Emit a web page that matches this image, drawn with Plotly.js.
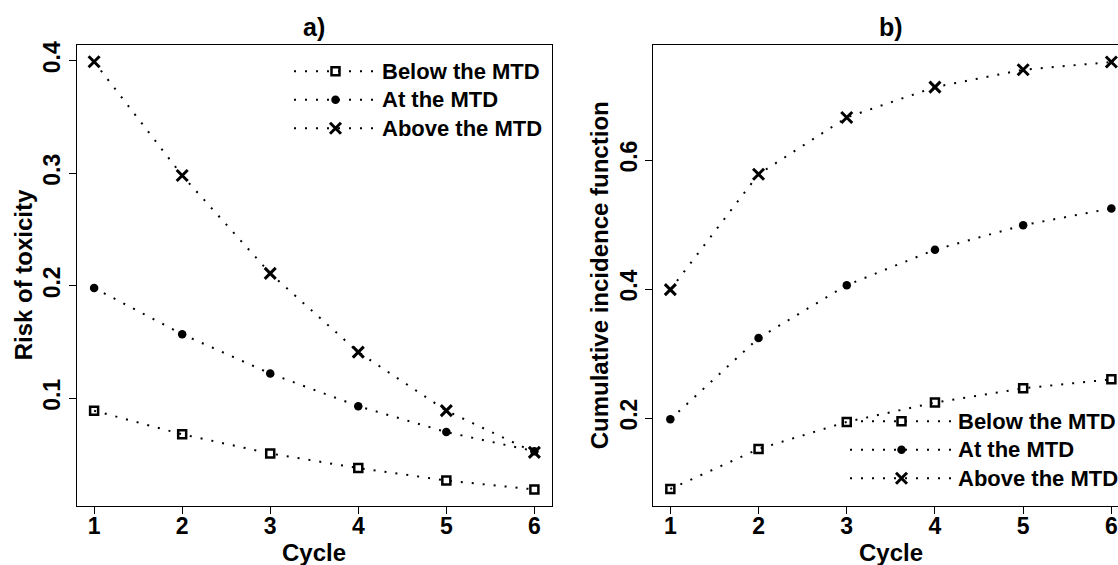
<!DOCTYPE html>
<html>
<head>
<meta charset="utf-8">
<script src="https://cdn.plot.ly/plotly-3.0.1.min.js"></script>
<style>
html, body { margin: 0; padding: 0; overflow: hidden; background: #ffffff; }
#chart { width: 1135px; height: 565px; }
</style>
</head>
<body>
<div id="chart"></div>
<script>
// ---- data ----
const cycles = [1, 2, 3, 4, 5, 6];
const seriesNames = ["Below the MTD", "At the MTD", "Above the MTD"];

const riskBelow = [0.089, 0.068, 0.051, 0.038, 0.027, 0.019];
const riskAt    = [0.198, 0.157, 0.122, 0.093, 0.070, 0.053];
const riskAbove = [0.399, 0.298, 0.211, 0.141, 0.089, 0.052];

const cifBelow = [0.090, 0.152, 0.194, 0.224, 0.246, 0.260];
const cifAt    = [0.198, 0.324, 0.406, 0.461, 0.499, 0.525];
const cifAbove = [0.399, 0.578, 0.666, 0.713, 0.740, 0.752];

const xTicks = [1, 2, 3, 4, 5, 6];
const yTicksA = [0.1, 0.2, 0.3, 0.4];
const yTicksB = [0.2, 0.4, 0.6];

const panelTitles = ["a)", "b)"];
const xTitle = "Cycle";
const yTitleA = "Risk of toxicity";
const yTitleB = "Cumulative incidence function";

// ---- styling ----
const FONT = "Liberation Sans, Arial, Helvetica, sans-serif";
const W = 1135, H = 565;
const dotted = {color: "#000", width: 2, dash: "2px,9px"};
const markers = [
  {symbol: "square-open", size: 8, color: "#000", line: {width: 2.5, color: "#000"}},
  {symbol: "circle", size: 8.5, color: "#000", line: {width: 0}},
  {symbol: "x-thin-open", size: 11, color: "#000", line: {width: 3, color: "#000"}}
];
const LEG_BASE = 19.6;   // sets legend row spacing
const LEG_TEXT = 22;     // actual legend text size

function mk(y, i, xa, ya, leg) {
  return {
    x: cycles, y: y, type: "scatter", mode: "lines+markers",
    name: '<span style="font-size:' + LEG_TEXT + 'px">' + seriesNames[i] + '</span>',
    xaxis: xa, yaxis: ya, legend: leg,
    line: dotted, marker: markers[i], showlegend: true, cliponaxis: false
  };
}

const traces = [
  mk(riskBelow, 0, "x", "y", "legend"),
  mk(riskAt, 1, "x", "y", "legend"),
  mk(riskAbove, 2, "x", "y", "legend"),
  mk(cifBelow, 0, "x2", "y2", "legend2"),
  mk(cifAt, 1, "x2", "y2", "legend2"),
  mk(cifAbove, 2, "x2", "y2", "legend2")
];

const tickFont = {family: FONT, size: 23, color: "#000", weight: "bold"};
const xDomA = [76.5 / W, 552 / W];
const xDomB = [652.7 / W, 1129 / W];
const yDom = [(H - 506) / H, (H - 44.7) / H];

function xaxis(dom, anchor) {
  return {
    domain: dom, anchor: anchor, range: [0.8, 6.2],
    tickmode: "array", tickvals: xTicks, ticktext: xTicks.map(String),
    ticks: "outside", ticklen: 7, tickwidth: 1, tickcolor: "#000",
    showline: true, mirror: true, linecolor: "#000", linewidth: 1,
    showgrid: false, zeroline: false, tickfont: tickFont, tickangle: 0,
    ticklabelstandoff: -8
  };
}
function yaxis(dom, anchor, range, vals) {
  return {
    domain: dom, anchor: anchor, range: range,
    tickmode: "array", tickvals: vals, ticktext: vals.map(v => v.toFixed(1)),
    ticks: "outside", ticklen: 7, tickwidth: 1, tickcolor: "#000",
    showline: true, mirror: true, linecolor: "#000", linewidth: 1,
    showgrid: false, zeroline: false, tickfont: tickFont, tickangle: -90,
    ticklabelstandoff: -1
  };
}

const annFont = {family: FONT, size: 24, color: "#000", weight: "bold"};
const mainFont = {family: FONT, size: 25, color: "#000", weight: "bold"};
const annotations = [
  {text: panelTitles[0], xref: "x domain", x: 0.5, yref: "paper", y: 1 - 27 / H, showarrow: false, xanchor: "center", yanchor: "middle", font: mainFont},
  {text: panelTitles[1], xref: "x2 domain", x: 0.5, yref: "paper", y: 1 - 27 / H, showarrow: false, xanchor: "center", yanchor: "middle", font: mainFont},
  {text: xTitle, xref: "x domain", x: 0.5, yref: "paper", y: 1 - 552 / H, showarrow: false, xanchor: "center", yanchor: "middle", font: annFont},
  {text: xTitle, xref: "x2 domain", x: 0.5, yref: "paper", y: 1 - 552 / H, showarrow: false, xanchor: "center", yanchor: "middle", font: annFont},
  {text: yTitleA, xref: "paper", x: 23 / W, yref: "y domain", y: 0.5, textangle: -90, showarrow: false, xanchor: "center", yanchor: "middle", font: annFont},
  {text: yTitleB, xref: "paper", x: 599 / W, yref: "y2 domain", y: 0.5, textangle: -90, showarrow: false, xanchor: "center", yanchor: "middle", font: annFont}
];

const legFont = {family: FONT, size: LEG_BASE, color: "#000", weight: "bold"};
const layout = {
  width: W, height: H,
  margin: {l: 0, r: 0, t: 0, b: 0, pad: 0},
  paper_bgcolor: "#fff", plot_bgcolor: "#fff",
  font: {family: FONT, color: "#000"},
  xaxis: xaxis(xDomA, "y"),
  yaxis: yaxis(yDom, "x", [0.0043, 0.4142], yTicksA),
  xaxis2: xaxis(xDomB, "y2"),
  yaxis2: yaxis(yDom, "x2", [0.0636, 0.7788], yTicksB),
  legend: {x: 289 / W, y: 1 - 52 / H, xanchor: "left", yanchor: "top",
           bgcolor: "rgba(0,0,0,0)", borderwidth: 0, font: legFont, itemwidth: 83, tracegroupgap: 0},
  legend2: {x: 845 / W, y: 1 - 402 / H, xanchor: "left", yanchor: "top",
            bgcolor: "rgba(0,0,0,0)", borderwidth: 0, font: legFont, itemwidth: 103, tracegroupgap: 0},
  annotations: annotations,
  showlegend: true
};

Plotly.newPlot("chart", traces, layout, {displayModeBar: false, staticPlot: true});
</script>
</body>
</html>
